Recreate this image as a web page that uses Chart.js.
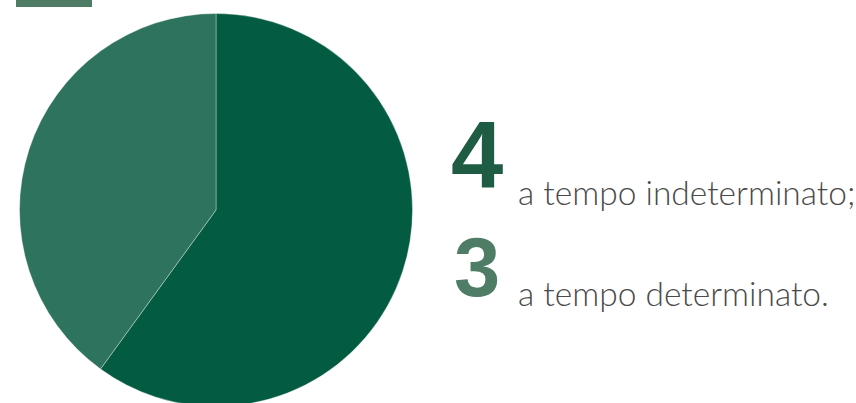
<!DOCTYPE html>
<html>
<head>
<meta charset="utf-8">
<script src="https://cdn.jsdelivr.net/npm/chart.js@4"></script>
<style>
    html, body { margin: 0; padding: 0; width: 856px; height: 403px; overflow: hidden; background: #ffffff; }
    #topBar { position: absolute; left: 16px; top: 0; width: 76px; height: 7px; background: #4e7c65; }
    #pieWrap { position: absolute; left: 19px; top: 13px; width: 394px; height: 394px; }
    .num { position: absolute; font-family: "Liberation Sans", Arial, sans-serif; font-weight: bold; line-height: 1; }
    .lbl { position: absolute; font-family: Lato, "Open Sans", sans-serif; font-weight: 300; color: #4a4a4a; line-height: 1; white-space: nowrap; }
</style>
</head>
<body>
<div id="topBar"></div>
<div id="pieWrap"><canvas id="pie"></canvas></div>
<div id="legend"></div>
<script>
// Contratti: indeterminato / determinato
const labels = ['a tempo indeterminato;', 'a tempo determinato.'];
const counts = [4, 3];
// slice shares as drawn in the picture (about 60 / 40)
const pieShares = [60, 40];
const sliceColors = ['#035b41', '#2e735d'];
const numberColors = ['#1e5c44', '#4e7c65'];

// Legend text positions (number + label)
const numLayout = [
    { left: 451, top: 108, size: 94 },
    { left: 454, top: 226, size: 83 }
];
const lblLayout = [
    { left: 518, top: 176, size: 33.5 },
    { left: 518, top: 277, size: 33.5 }
];

const legend = document.getElementById('legend');
counts.forEach((v, i) => {
    const n = document.createElement('div');
    n.className = 'num';
    n.textContent = v;
    n.style.left = numLayout[i].left + 'px';
    n.style.top = numLayout[i].top + 'px';
    n.style.fontSize = numLayout[i].size + 'px';
    n.style.color = numberColors[i];
    legend.appendChild(n);

    const l = document.createElement('div');
    l.className = 'lbl';
    l.textContent = labels[i];
    l.style.left = lblLayout[i].left + 'px';
    l.style.top = lblLayout[i].top + 'px';
    l.style.fontSize = lblLayout[i].size + 'px';
    legend.appendChild(l);
});

new Chart(document.getElementById('pie'), {
    type: 'pie',
    data: {
        labels: labels,
        datasets: [{
            data: pieShares,
            backgroundColor: sliceColors,
            borderColor: 'rgba(255, 255, 255, 0.35)',
            borderWidth: 1
        }]
    },
    options: {
        responsive: true,
        maintainAspectRatio: false,
        animation: false,
        layout: { padding: 0 },
        plugins: {
            legend: { display: false },
            tooltip: { enabled: false }
        }
    }
});
</script>
</body>
</html>
